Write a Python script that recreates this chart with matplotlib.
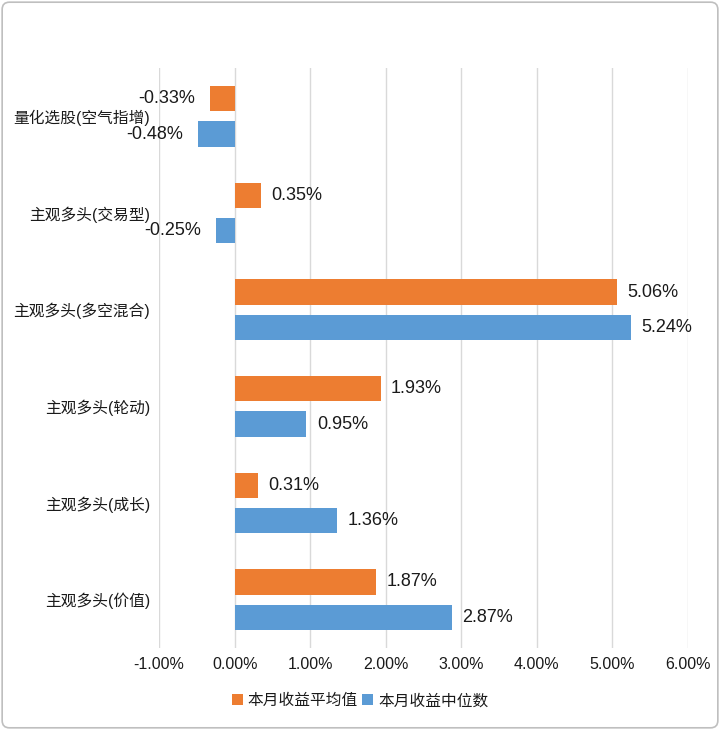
import matplotlib
matplotlib.use("Agg")
import matplotlib.pyplot as plt
from matplotlib.patches import FancyBboxPatch
import numpy as np

plt.rcParams['font.family'] = ['Liberation Sans', 'Noto Sans CJK SC', 'DejaVu Sans']

categories = ["量化选股(空气指增)", "主观多头(交易型)", "主观多头(多空混合)",
              "主观多头(轮动)", "主观多头(成长)", "主观多头(价值)"]
mean_vals = [-0.33, 0.35, 5.06, 1.93, 0.31, 1.87]
median_vals = [-0.48, -0.25, 5.24, 0.95, 1.36, 2.87]
series_names = ["本月收益平均值", "本月收益中位数"]
xticks = [-1, 0, 1, 2, 3, 4, 5, 6]

c_orange = "#ED7D31"
c_blue = "#5B9BD5"
txt = "#1A1A1A"

fig = plt.figure(figsize=(7.2, 7.3), dpi=100)
ax = fig.add_axes([0.221, 0.1123, 0.7346, 0.7945])

y = np.arange(len(categories))
h = 0.26
off = 0.183
ax.barh(y - off, mean_vals, height=h, color=c_orange, label=series_names[0], zorder=3)
ax.barh(y + off, median_vals, height=h, color=c_blue, label=series_names[1], zorder=3)

def put_labels(ys, vals):
    for yy, v in zip(ys, vals):
        if v >= 0:
            ax.text(v + 0.14, yy, f"{v:.2f}%", va='center', ha='left', fontsize=13, color=txt)
        else:
            ax.text(v - 0.2, yy, f"{v:.2f}%", va='center', ha='right', fontsize=13, color=txt)

put_labels(y - off, mean_vals)
put_labels(y + off, median_vals)

ax.set_xlim(-1, 6)
ax.set_ylim(len(categories) - 0.5, -0.5)
ax.set_xticks(xticks)
ax.set_xticklabels([f"{t:.2f}%" for t in xticks], fontsize=11.5, color=txt)
ax.set_yticks(y)
ax.set_yticklabels(categories, fontsize=11.3, color=txt)
ax.tick_params(axis='x', length=0, pad=6.5)
ax.tick_params(axis='y', length=0, pad=6.5)
ax.grid(axis='x', color='#D9D9D9', linewidth=1, zorder=0)
for s in ax.spines.values():
    s.set_visible(False)

leg = fig.legend(loc='center', bbox_to_anchor=(0.5, 0.04), ncol=2, frameon=False,
                 fontsize=11.3, handlelength=0.7, handleheight=0.7, handletextpad=0.3,
                 columnspacing=0.3)
for t in leg.get_texts():
    t.set_color(txt)

border = FancyBboxPatch((0.003, 0.003), 0.994, 0.994, boxstyle="round,pad=0,rounding_size=0.01",
                        transform=fig.transFigure, fill=False, edgecolor='#BFBFBF', linewidth=1.2)
fig.patches.append(border)

fig.savefig("out.png", dpi=100)
